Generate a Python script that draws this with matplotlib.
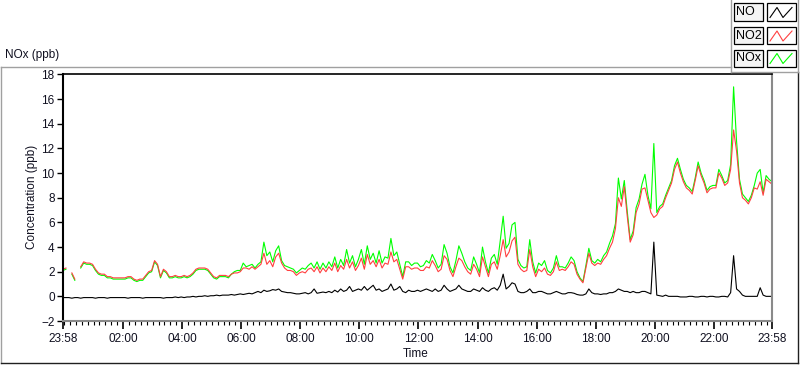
import numpy as np
import matplotlib
matplotlib.use("Agg")
import matplotlib.pyplot as plt
from matplotlib.lines import Line2D
from matplotlib.patches import Rectangle

nan = np.nan

# samples every 6 minutes starting at 23:58 (241 samples, one per row of 10 = 1 hour)
no2 = [
    2.2, 2.3, nan, 1.9, 1.4, nan, 2.4, 2.8, 2.7, 2.7,
    2.6, 2.2, 1.9, 1.8, 1.8, 1.6, 1.6, 1.5, 1.5, 1.5,
    1.5, 1.5, 1.6, 1.6, 1.4, 1.3, 1.4, 1.4, 1.7, 2.0,
    2.1, 2.9, 2.6, 1.6, 2.2, 2.0, 1.6, 1.6, 1.7, 1.6,
    1.6, 1.7, 1.6, 1.7, 1.9, 2.2, 2.3, 2.3, 2.3, 2.2,
    1.9, 1.6, 1.5, 1.7, 1.7, 1.7, 1.6, 1.8, 1.9, 1.9,
    2.0, 2.3, 2.3, 2.2, 2.4, 2.2, 2.4, 2.6, 3.5, 2.6,
    2.9, 2.4, 3.2, 3.5, 2.7, 2.3, 2.1, 2.1, 2.0, 1.7,
    1.9, 2.0, 1.9, 2.2, 2.3, 2.0, 2.4, 1.9, 2.3, 2.0,
    2.4, 2.1, 2.7, 2.0, 2.5, 2.2, 3.0, 2.3, 2.8, 2.1,
    2.5, 3.1, 2.2, 3.4, 2.6, 2.9, 2.4, 3.0, 2.3, 2.7,
    2.6, 3.6, 2.8, 3.0, 2.2, 1.4, 2.4, 2.4, 2.2, 2.3,
    2.3, 2.1, 2.1, 2.4, 2.3, 2.9, 2.5, 2.0, 2.2, 3.3,
    3.0, 2.1, 1.6, 2.4, 3.1, 2.9, 2.4, 2.0, 1.8, 2.6,
    2.2, 1.6, 3.2, 2.4, 1.6, 2.6, 2.8, 2.2, 3.3, 4.6,
    3.2, 3.6, 4.5, 4.8, 2.6, 2.2, 2.0, 2.1, 3.8, 2.4,
    1.6, 2.2, 2.0, 2.3, 1.8, 1.7, 2.0, 2.8, 2.1, 2.2,
    2.1, 2.4, 2.8, 2.6, 1.8, 1.4, 1.1, 2.3, 3.5, 2.7,
    2.5, 2.7, 2.6, 3.0, 3.3, 3.9, 4.4, 5.5, 8.0, 7.3,
    8.9, 6.5, 4.4, 5.0, 6.8, 7.5, 8.7, 8.8, 7.8, 6.8,
    6.4, 6.6, 7.1, 7.3, 8.0, 8.6, 9.2, 10.3, 10.9, 10.0,
    9.3, 8.8, 8.6, 8.3, 9.4, 10.6, 9.8, 9.2, 8.4, 8.7,
    8.8, 8.8, 10.0, 9.6, 9.0, 9.2, 10.3, 13.5, 11.8, 9.2,
    8.0, 7.8, 7.5, 8.0, 8.8, 8.7, 9.3, 8.2, 9.5, 9.3,
    9.1,
]

nox = [
    2.1, 2.2, nan, 1.8, 1.3, nan, 2.3, 2.7, 2.6, 2.6,
    2.5, 2.1, 1.8, 1.7, 1.7, 1.5, 1.5, 1.4, 1.4, 1.4,
    1.4, 1.4, 1.5, 1.5, 1.3, 1.2, 1.3, 1.3, 1.6, 1.9,
    2.0, 2.8, 2.5, 1.5, 2.1, 1.9, 1.5, 1.5, 1.6, 1.5,
    1.5, 1.6, 1.5, 1.6, 1.8, 2.1, 2.2, 2.2, 2.2, 2.1,
    1.8, 1.5, 1.4, 1.6, 1.6, 1.6, 1.5, 1.8, 2.0, 2.1,
    2.1, 2.7, 2.4, 2.5, 2.6, 2.3, 2.6, 2.8, 4.4, 3.3,
    3.6, 2.8, 3.7, 4.1, 2.9, 2.5, 2.4, 2.3, 2.2, 1.9,
    2.1, 2.3, 2.2, 2.5, 2.7, 2.3, 2.8, 2.2, 2.7, 2.3,
    2.8, 2.4, 3.2, 2.3, 3.0, 2.5, 3.8, 2.7, 3.3, 2.4,
    3.0, 3.8, 2.6, 4.1, 3.0, 3.5, 2.7, 3.7, 2.7, 3.2,
    3.1, 4.7, 3.3, 3.6, 2.6, 1.6, 2.8, 2.8, 2.5, 2.7,
    2.7, 2.4, 2.5, 2.9, 2.7, 3.4, 2.9, 2.3, 2.6, 4.2,
    3.5, 2.4, 1.9, 2.9, 4.1, 3.5, 2.8, 2.3, 2.1, 3.2,
    2.6, 1.9, 4.0, 2.8, 1.9, 3.1, 3.4, 2.6, 4.5, 6.5,
    3.9, 4.3, 5.8, 6.0, 3.0, 2.5, 2.3, 2.4, 4.6, 2.8,
    1.9, 2.7, 2.5, 2.9, 2.1, 1.9, 2.3, 3.3, 2.4, 2.4,
    2.3, 2.7, 3.2, 2.9, 2.0, 1.5, 1.2, 2.5, 3.9, 2.9,
    2.7, 3.0, 2.8, 3.3, 3.6, 4.3, 4.9, 5.9, 9.6, 7.9,
    9.4, 6.9, 4.6, 5.3, 7.2, 7.9, 9.1, 9.9, 8.2, 7.1,
    12.4, 6.8, 7.3, 7.5, 8.2, 8.8, 9.4, 10.6, 11.2, 10.3,
    9.5, 9.0, 8.8, 8.5, 9.6, 10.9, 10.0, 9.4, 8.6, 8.9,
    9.0, 9.0, 10.3, 9.8, 9.2, 9.4, 10.7, 17.0, 12.6, 9.5,
    8.3, 8.0, 7.7, 8.2, 9.0, 10.0, 10.3, 8.4, 9.8, 9.5,
    9.3,
]

no = [
    -0.1, -0.1, -0.1, -0.15, -0.1, -0.1, -0.15, -0.1, -0.1, -0.1,
    -0.1, -0.15, -0.1, -0.1, -0.1, -0.15, -0.1, -0.1, -0.1, -0.1,
    -0.1, -0.1, -0.15, -0.1, -0.1, -0.1, -0.1, -0.15, -0.1, -0.1,
    -0.1, -0.1, -0.1, -0.1, -0.15, -0.1, -0.1, -0.1, -0.05, -0.1,
    -0.05, -0.1, -0.05, -0.05, 0.0, -0.05, 0.0, 0.0, 0.05, 0.0,
    0.05, 0.05, 0.1, 0.05, 0.1, 0.1, 0.1, 0.15, 0.1, 0.15,
    0.2, 0.15, 0.2, 0.25, 0.2, 0.3, 0.4, 0.3, 0.5, 0.4,
    0.45, 0.55, 0.5, 0.6, 0.4, 0.35, 0.3, 0.3, 0.25, 0.2,
    0.2, 0.25, 0.3, 0.2, 0.3, 0.6, 0.25, 0.3, 0.35, 0.3,
    0.4, 0.3, 0.5, 0.35, 0.6, 0.4, 0.5, 0.8, 0.4, 0.5,
    0.6, 0.5, 0.8, 0.5, 0.7, 0.9, 0.5, 0.6, 0.4, 0.5,
    0.6, 1.0, 0.5, 0.6, 0.8, 0.4, 0.3, 0.5, 0.4, 0.4,
    0.5, 0.4, 0.5, 0.6, 0.5, 0.4, 0.6, 0.4, 0.5, 0.9,
    0.6, 0.4, 0.5, 0.6, 0.9, 0.6, 0.5, 0.4, 0.4, 0.6,
    0.5, 0.4, 0.7, 0.5, 0.4, 0.6, 0.7, 0.5, 0.9, 1.8,
    0.6, 0.8, 1.1, 1.0, 0.4, 0.3, 0.3, 0.4, 0.6, 0.3,
    0.3, 0.4, 0.4, 0.3, 0.2, 0.2, 0.3, 0.4, 0.3, 0.2,
    0.2, 0.3, 0.3, 0.25, 0.15, 0.1, 0.1, 0.2, 0.6, 0.3,
    0.2, 0.2, 0.15, 0.2, 0.2, 0.3, 0.3, 0.4, 0.6, 0.5,
    0.4, 0.4, 0.3, 0.4, 0.3, 0.3, 0.4, 0.4, 0.3, 0.2,
    4.4, 0.1, 0.05, 0.0, 0.1, 0.0, 0.0, 0.0, 0.0, -0.05,
    -0.05, -0.05, 0.0, 0.0, -0.05, -0.05, 0.0, 0.0, -0.05, 0.0,
    0.0, -0.05, -0.05, 0.0, 0.0, -0.05, 0.3, 3.3, 0.6, 0.4,
    0.1, 0.0, 0.0, 0.0, 0.0, 0.0, 0.7, 0.1, 0.0, 0.0,
    0.0,
]

step_min = 6
t = np.arange(len(no2)) * step_min  # minutes after 23:58

tick_pos = [0, 122, 242, 362, 482, 602, 722, 842, 962, 1082, 1202, 1322, 1440]
tick_labels = ["23:58", "02:00", "04:00", "06:00", "08:00", "10:00", "12:00",
               "14:00", "16:00", "18:00", "20:00", "22:00", "23:58"]

W, H = 800, 365
fig = plt.figure(figsize=(W / 100, H / 100), dpi=100)
fig.patch.set_facecolor("white")


def fx(x):
    return x / W


def fy(y):
    return 1 - y / H


ax = fig.add_axes([fx(63), fy(321), fx(772) - fx(63), fy(74.5) - fy(321)])
ax.plot(t, no, color="black", lw=0.8)
ax.plot(t, nox, color="#00ff00", lw=0.8)
ax.plot(t, no2, color="#ff4040", lw=0.8)

ax.set_xlim(0, 1440)
ax.set_ylim(-2, 18)
ax.set_yticks(np.arange(-2, 19, 2))
ax.set_xticks(tick_pos)
ax.set_xticklabels(tick_labels)
minor = [m for m in range(2, 1440, 12) if m not in tick_pos]
ax.set_xticks(minor, minor=True)

font = "Liberation Sans"
for lab in ax.get_xticklabels() + ax.get_yticklabels():
    lab.set_fontfamily(font)
    lab.set_fontsize(8.5)
    lab.set_color("#101020")

ax.tick_params(axis="y", direction="out", length=4, width=1, pad=2, color="black")
ax.tick_params(axis="x", which="major", direction="out", length=6, width=1.2, pad=3, color="black")
ax.tick_params(axis="x", which="minor", direction="out", length=3, width=0.8, color="black")

ax.spines["left"].set_color("black")
ax.spines["left"].set_linewidth(1.5)
ax.spines["top"].set_color("black")
ax.spines["top"].set_linewidth(1.2)
ax.spines["right"].set_color("#8a8a8a")
ax.spines["right"].set_linewidth(1.5)
ax.spines["bottom"].set_color("#8a8a8a")
ax.spines["bottom"].set_linewidth(1.5)

fig.text(fx(32), fy(197), "Concentration (ppb)", rotation=90, ha="center", va="center",
         fontsize=8.5, family=font, color="#101020")
fig.text(fx(416), fy(354), "Time", ha="center", va="center",
         fontsize=8.5, family=font, color="#101020")
fig.text(fx(5), fy(55), "NOx (ppb)", ha="left", va="center",
         fontsize=8.5, family=font, color="#101020")


def fline(xs, ys, color, lw=1.0):
    fig.add_artist(Line2D([fx(v) for v in xs], [fy(v) for v in ys],
                          color=color, lw=lw, transform=fig.transFigure))


# outer panel
fline([0.5, 731], [66.5, 66.5], "#a0a0a0")
fline([0.5, 0.5], [66.5, 363], "#a0a0a0")
fline([0.5, 798], [363, 363], "#202020")
fline([798, 798], [72, 363], "#202020")

# legend panel
fline([731, 731], [0, 72], "#a0a0a0")
fline([731, 798], [72, 72], "#a0a0a0")
fline([798, 798], [0, 72], "#a0a0a0")

legend_names = ["NO", "NO2", "NOx"]
legend_colors = ["black", "#ff4040", "#00ff00"]
rows = [3.5, 27, 49.5]
for name, col, y0 in zip(legend_names, legend_colors, rows):
    fig.add_artist(Rectangle((fx(734), fy(y0 + 17)), fx(763) - fx(734), fy(y0) - fy(y0 + 17),
                             facecolor="#f4f4f4", edgecolor="black", lw=0.9,
                             transform=fig.transFigure))
    fig.text(fx(736), fy(y0 + 8.7), name, ha="left", va="center", fontsize=9,
             family=font, color="black")
    fig.add_artist(Rectangle((fx(767), fy(y0 + 17)), fx(796) - fx(767), fy(y0) - fy(y0 + 17),
                             facecolor="white", edgecolor="black", lw=0.9,
                             transform=fig.transFigure))
    fline([770, 777, 783, 792], [y0 + 14, y0 + 4, y0 + 14, y0 + 4], col, lw=0.8)

fig.savefig("out.png", dpi=100, facecolor="white")
